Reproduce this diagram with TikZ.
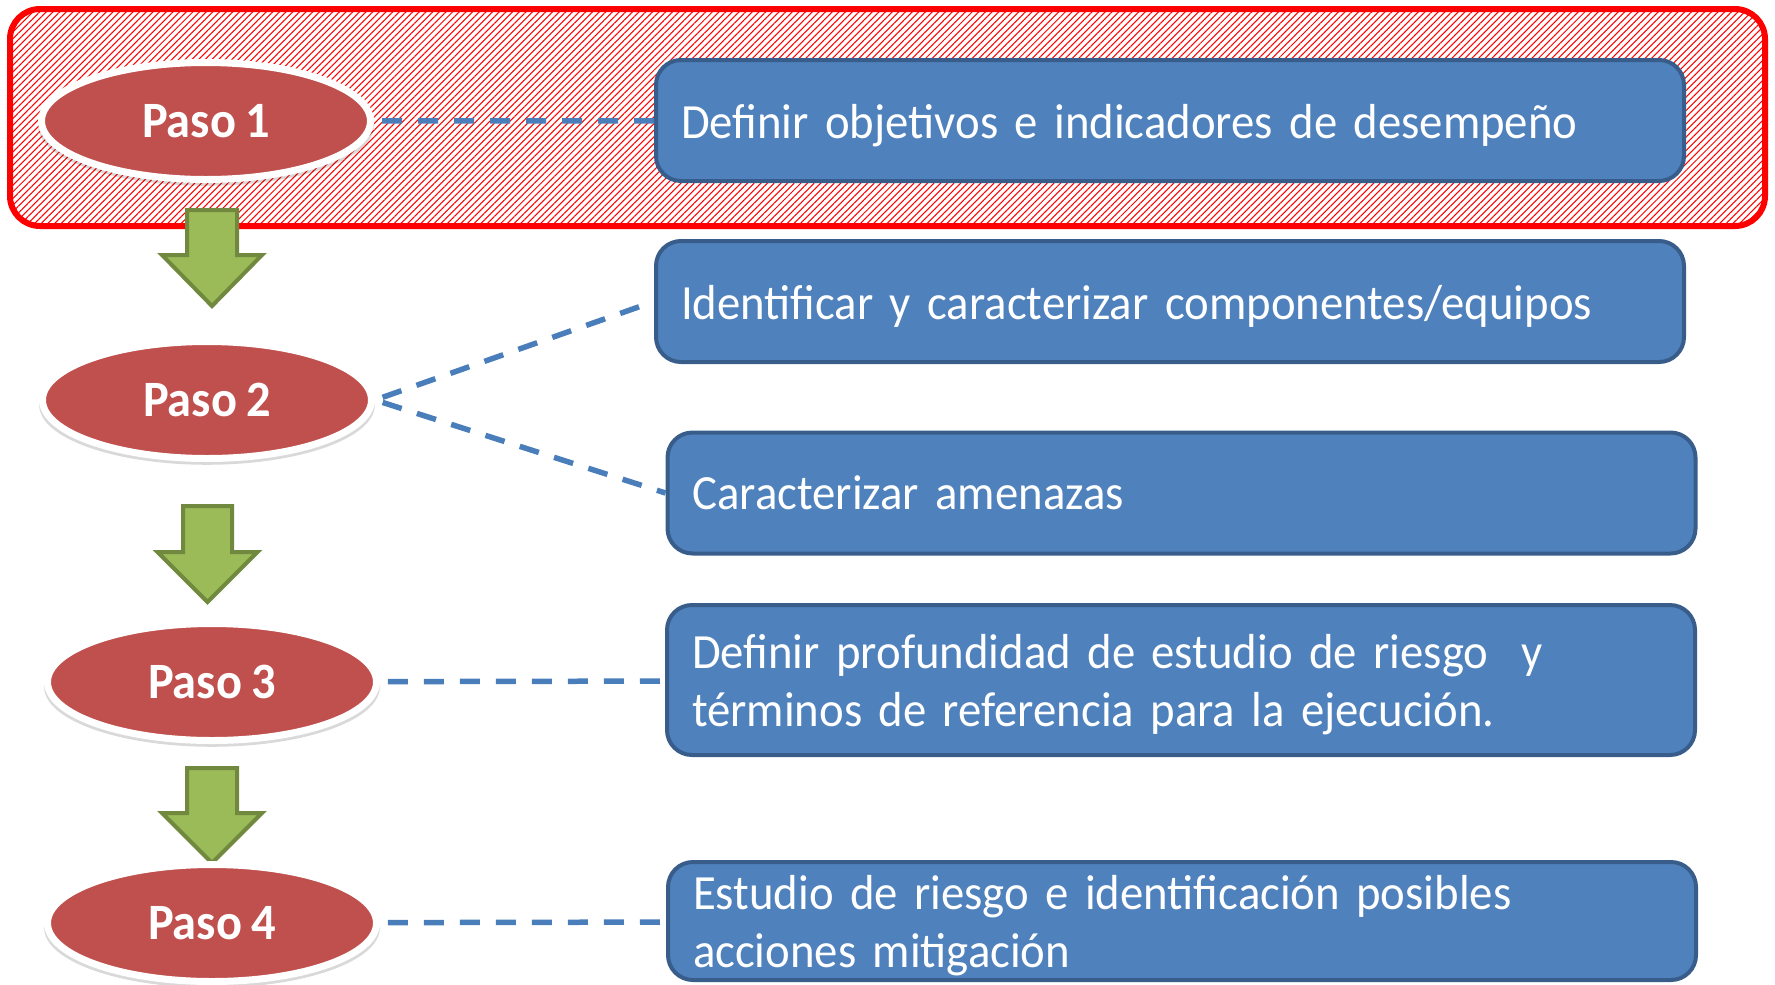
\documentclass[tikz,border=0pt]{standalone}
\usepackage{fontspec}
\setmainfont{Carlito}[FakeStretch=0.95,WordSpace=0.85]
\usepackage{tikz}
\usetikzlibrary{shapes.geometric,patterns.meta,shadows,positioning}

\definecolor{rojopaso}{HTML}{C0504D}
\definecolor{azulcaja}{HTML}{4F81BD}
\definecolor{azulborde}{HTML}{385D8A}
\definecolor{verdeflecha}{HTML}{9BBB59}
\definecolor{verdeborde}{HTML}{71893F}
\definecolor{azullinea}{HTML}{4A7EBB}

\tikzset{
  paso/.style={ellipse, fill=rojopaso, draw=white, line width=0.07cm,
    minimum width=3.29cm, minimum height=1.17cm, inner sep=0pt,
    text=white, font=\bfseries\fontsize{14.5}{17}\selectfont,
    drop shadow={shadow xshift=0cm, shadow yshift=-0.05cm, shadow scale=1.02,
      opacity=0.15, fill=black}},
  caja/.style={rectangle, rounded corners=0.25cm, fill=azulcaja, draw=azulborde,
    line width=0.04cm, text=white, minimum width=10.28cm, minimum height=1.21cm,
    inner xsep=0.25cm, inner ysep=0pt, text width=9.78cm, align=left,
    text height=12.6pt, font=\fontsize{14}{16.5}\selectfont},
  enlace/.style={draw=azullinea, line width=0.055cm,
    dash pattern=on 0.2cm off 0.16cm, shorten <=0.08cm},
  flecha/.style={fill=verdeflecha, draw=verdeborde, line width=0.04cm},
  marco/.style={draw=red, line width=0.06cm, rounded corners=0.3cm,
    pattern={Lines[angle=45,distance=1.34pt,line width=0.3pt]},
    pattern color=red}
}

\begin{document}
\begin{tikzpicture}
      \useasboundingbox (0,0) rectangle (17.75,-9.84);
      %% recuadro del paso 1
      \draw[marco] (0.10,-0.09) rectangle (17.65,-2.26);

      %% flechas entre pasos
      \draw[flecha] (1.87,-2.10) -- ++(0.50,0) -- ++(0,-0.45) -- ++(0.25,0)
        -- ++(-0.50,-0.51) -- ++(-0.50,0.51) -- ++(0.25,0) -- cycle;
      \draw[flecha] (1.83,-5.06) -- ++(0.49,0) -- ++(0,-0.46) -- ++(0.255,0)
        -- ++(-0.5,-0.50) -- ++(-0.5,0.50) -- ++(0.255,0) -- cycle;
      \draw[flecha] (1.87,-7.68) -- ++(0.50,0) -- ++(0,-0.45) -- ++(0.25,0)
        -- ++(-0.50,-0.50) -- ++(-0.50,0.50) -- ++(0.25,0) -- cycle;

      \node[paso] (p1) at (2.06,-1.21) {Paso 1};
      \node[paso] (p2) at (2.07,-4.00) {Paso 2};
      \node[paso] (p3) at (2.12,-6.82) {Paso 3};
      \node[paso] (p4) at (2.12,-9.23) {Paso 4};

      \node[caja] (c1) at (11.70,-1.205) {Definir objetivos e indicadores de desempeño};
      \node[caja] (c2) at (11.70,-3.015) {Identificar y caracterizar componentes/equipos};
      \node[caja,text height=9.6pt,text depth=0pt] (c3) at (11.815,-4.93) {Caracterizar amenazas};
      \node[caja,minimum height=1.50cm] (c4) at (11.81,-6.80)
        {Definir profundidad de estudio de riesgo\ \ y\\términos de referencia para la ejecución.};
      \node[caja,minimum height=1.18cm] (c5) at (11.82,-9.21)
        {Estudio de riesgo e identificación posibles\\acciones mitigación};

      %% enlaces
      \draw[enlace] (p1) -- (c1);
      \draw[enlace] (p2.east) -- (c2.west);
      \draw[enlace] (p2.east) -- (c3.west);
      \draw[enlace] (p3) -- (c4);
      \draw[enlace] (p4) -- (c5);
    \end{tikzpicture}
\end{document}
